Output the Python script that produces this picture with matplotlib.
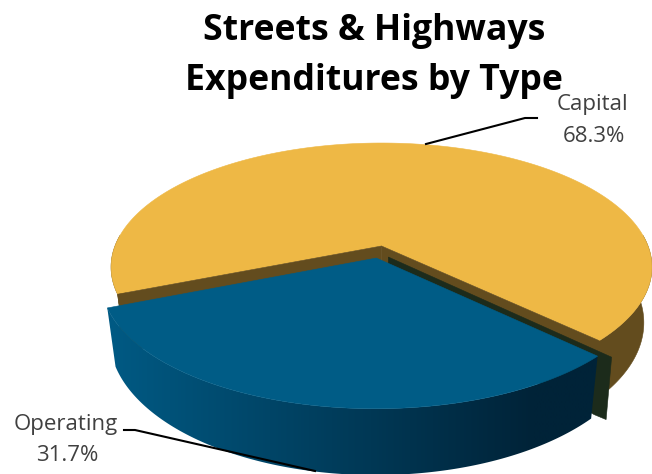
import matplotlib
matplotlib.use('Agg')
import matplotlib.pyplot as plt
from matplotlib.patches import Polygon
import numpy as np

# Streets & Highways 3D exploded pie
labels = ['Capital', 'Operating']
shares = [68.3, 31.7]
title_lines = ['Streets & Highways', 'Expenditures by Type']

plt.rcParams['font.family'] = ['Open Sans', 'DejaVu Sans']

# pie geometry in pixels (perspective projection of a flat disc)
cx, cy = 381.5, 246
rx, ry = 266.5, 120.5
persp = 0.17
depth = 54
shrink = 0.97  # bottom face a bit narrower
explode = 0.1
start_op = 202.0

yellow_top = '#eeb845'
yellow_wall = '#634c1e'
blue_top = '#005c86'
dark_side = '#1c2b1b'


def project(x, y, low=False):
    s = 1 / (1 + persp * y)
    k = shrink if low else 1.0
    px = cx + rx * x * s * k
    py = cy - ry * y * s + (depth * s if low else 0)
    return px, py


def arc(a0, a1, dx=0.0, dy=0.0, low=False, n=200):
    t = np.radians(np.linspace(a0, a1, n))
    return project(np.cos(t) + dx, np.sin(t) + dy, low)


def poly(xs, ys, color, z):
    p = Polygon(np.column_stack([xs, ys]), closed=True, fc=color, ec=color, lw=0.4, zorder=z)
    ax.add_patch(p)
    return p


fig = plt.figure(figsize=(6.52, 4.74), dpi=100)
ax = fig.add_axes([0, 0, 1, 1])

sweep_op = 360 * shares[1] / sum(shares)
end_op = start_op + sweep_op
mid = np.radians(start_op + sweep_op / 2)
ex, ey = explode * np.cos(mid), explode * np.sin(mid)

# capital: outer wall, top, cut walls
for a0, a1 in [(end_op - 5, 360 + 5), (175, start_op)]:
    xt, yt = arc(a0, a1)
    xb, yb = arc(a0, a1, low=True)
    poly(np.r_[xt, xb[::-1]], np.r_[yt, yb[::-1]], yellow_wall, 1)
xt, yt = arc(end_op, start_op + 360)
ax0, ay0 = project(0.0, 0.0)
poly(np.r_[ax0, xt], np.r_[ay0, yt], yellow_top, 2)
for a in [start_op, end_op]:
    ex0, ey0 = project(np.cos(np.radians(a)), np.sin(np.radians(a)))
    bx0, by0 = project(np.cos(np.radians(a)), np.sin(np.radians(a)), low=True)
    lx0, ly0 = project(0.0, 0.0, low=True)
    poly([ax0, ex0, bx0, lx0], [ay0, ey0, by0, ly0], yellow_wall, 3)

# operating: dark inner side, gradient outer wall, top
opx, opy = project(ex, ey)
rx1, ry1 = project(np.cos(np.radians(end_op)) + ex, np.sin(np.radians(end_op)) + ey)
rbx, rby = project(np.cos(np.radians(end_op)) + ex, np.sin(np.radians(end_op)) + ey, low=True)
poly([opx + 12, rx1 + 14, rbx + 15, rbx + 3, opx + 12],
     [opy - 1, ry1 + 1, rby + 1, rby - 4, opy + 40], dark_side, 4)

xt, yt = arc(start_op, end_op, ex, ey, n=160)
xb, yb = arc(start_op, end_op, ex, ey, low=True, n=160)
col_l = np.array([0x00, 0x5a, 0x84]) / 255
col_r = np.array([0x00, 0x23, 0x38]) / 255
wall = Polygon(np.column_stack([np.r_[xt, xb[::-1]], np.r_[yt, yb[::-1]]]), closed=True, fc='none', ec='none')
ax.add_patch(wall)
f = np.clip(np.linspace(0, 1.15, 256), 0, 1)[None, :, None]
grad = col_l[None, None, :] + (col_r - col_l)[None, None, :] * f
img = ax.imshow(grad, extent=[xt[0], xt[-1], 474, 0], aspect='auto', zorder=5, interpolation='bilinear')
img.set_clip_path(wall)
poly(np.r_[opx, xt], np.r_[opy, yt], blue_top, 6)

ax.set_xlim(0, 652)
ax.set_ylim(474, 0)
ax.axis('off')

# title and labels
ax.text(374, 40, title_lines[0], ha='center', va='baseline', fontsize=25.7, fontweight='bold', color='black', zorder=10)
ax.text(374, 90, title_lines[1], ha='center', va='baseline', fontsize=25.7, fontweight='bold', color='black', zorder=10)
ax.text(592, 110, labels[0], ha='center', va='baseline', fontsize=16, color='#404040', zorder=10)
ax.text(594, 142, '%.1f%%' % shares[0], ha='center', va='baseline', fontsize=16, color='#404040', zorder=10)
ax.text(66, 430, labels[1], ha='center', va='baseline', fontsize=16, color='#404040', zorder=10)
ax.text(67, 461, '%.1f%%' % shares[1], ha='center', va='baseline', fontsize=16, color='#404040', zorder=10)

# leader lines
ax.plot([426, 525, 537], [144, 118, 118], color='black', lw=1.5, zorder=9)
ax.plot([124, 135, 315], [430, 430, 471], color='black', lw=1.5, zorder=9)

fig.savefig('out.png', dpi=100)
